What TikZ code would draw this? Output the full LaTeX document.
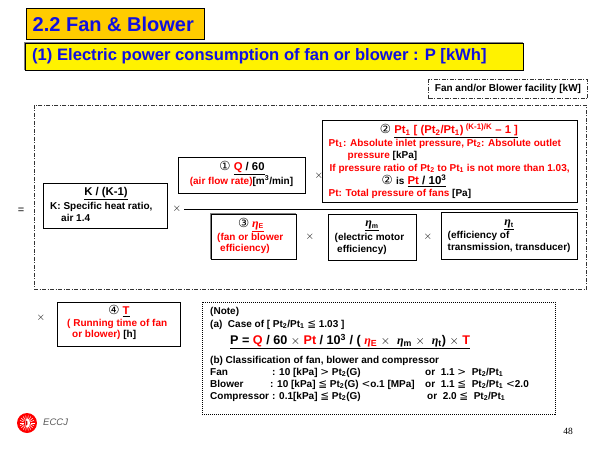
\documentclass[tikz,border=0pt]{standalone}
\usepackage{fontspec}
\setmainfont{Liberation Sans}
\newfontfamily\symfont{DejaVu Sans}
\newfontfamily\etafont{Liberation Serif}
\usetikzlibrary{positioning}
\definecolor{titlegold}{HTML}{FFCC00}
\definecolor{titleblue}{HTML}{1010E0}
\definecolor{edgegray}{HTML}{808080}
\newcommand{\ssym}[1]{{\symfont\fontseries{m}\fontsize{10.5}{12}\selectfont #1}}
\newcommand{\cnum}[1]{{\symfont\fontseries{m}\fontsize{12.5}{13}\selectfont #1}}
\newcommand{\etasym}[1]{{\etafont\itshape\fontsize{12}{12}\selectfont \symbol{"03B7}}\textsubscript{#1}}
\newcommand{\rd}[1]{\textcolor{red}{#1}}
\newcommand{\subs}[1]{\textsubscript{#1}}

\begin{document}
\begin{tikzpicture}[x=1pt,y=-1pt,
			base text/.style={inner sep=0pt,font=\bfseries\fontsize{10}{12}\selectfont},
			line text/.style={base text,anchor=west,text height=7.5pt,text depth=2.5pt},
			mid text/.style={base text,anchor=center},
			head text/.style={inner sep=0pt,anchor=center,font=\bfseries\fontsize{11.3}{13}\selectfont},
			red text/.style={line text,text=red},
			formula box/.style={draw=black,line width=0.9pt,fill=white,inner sep=0pt},
			dash box/.style={draw=black!80,line width=0.7pt,dash pattern=on 4pt off 1.5pt on 1pt off 1.5pt},
			gray edge/.style={draw=edgegray,line width=1.2pt},
			times/.style={inner sep=0pt,font=\fontsize{11}{11}\selectfont}
			]
			\useasboundingbox (0,0) rectangle (600,450);

			% title bars
			\node[draw=black,line width=0.9pt,fill=titlegold,minimum width=178pt,minimum height=31pt,inner sep=0pt] (title) at (115,23.5) {};
			\node[base text,anchor=west,text=titleblue,font=\bfseries\fontsize{20}{22}\selectfont] (titletext) at (32.5,24.5) {2.2 Fan \& Blower};
			\node[draw=black,line width=0.9pt,fill=yellow,minimum width=498pt,minimum height=27pt,inner sep=0pt] (sub) at (274,56.5) {};
			\draw[gray edge] (sub.south west) -- (sub.north west) -- (sub.north east);
			\node[base text,anchor=west,text=titleblue,font=\bfseries\fontsize{16.6}{19}\selectfont] (subtext) at (32,56.5) {(1) Electric power consumption of fan or blower : P [kWh]};

			% dashed frames
			\node[dash box,minimum width=159pt,minimum height=19pt,inner sep=0pt] (facility) at (508,89) {};
			\node[mid text] (facilitytext) at (508,89) {Fan and/or Blower facility [kW]};
			\node[dash box,minimum width=552pt,minimum height=184.5pt,inner sep=0pt] (frame) at (310,197.5) {};

			\node[times] (eq) at (21,211) {=};
			\node[times] (x1) at (177,209) {$\times$};
			\node[times] (x2) at (319,176) {$\times$};
			\node[times] (x3) at (310,237) {$\times$};
			\node[times] (x4) at (428,237) {$\times$};
			\node[times] (x5) at (41,318) {$\times$};

			% fraction line
			\coordinate (fracl) at (184,209.5);
			\coordinate (fracr) at (578,209.5);
			\draw[line width=0.9pt] (fracl) -- (fracr);

			% K box
			\node[formula box,minimum width=123.5pt,minimum height=45pt] (kbox) at (105.2,205.5) {};
			\node[head text] (k1) at (106,193.5) {\underline{K / (K-1)}};
			\node[line text] (k2) at (50,207) {K: Specific heat ratio,};
			\node[line text] (k3) at (61,219) {air 1.4};

			% Q box
			\node[formula box,minimum width=127pt,minimum height=35.5pt] (qbox) at (242,175.2) {};
			\node[head text] (q1) at (242,168) {\cnum{①} \underline{\rd{Q} / 60}};
			\node[mid text] (q2) at (241.5,181) {\rd{(air flow rate)}[m\textsuperscript{3}/min]};

			% Pt box
			\node[formula box,minimum width=254.5pt,minimum height=81.5pt] (ptbox) at (449.7,161.5) {};
			\node[head text] (p1) at (449,131) {\cnum{②} \underline{\rd{Pt\subs{1} [ (Pt\subs{2}/Pt\subs{1})\textsuperscript{ (K-1)/K} -- 1 ]}}};
			\node[red text] (p2) at (328.5,143.5) {Pt\subs{1}: Absolute inlet pressure, Pt\subs{2}: Absolute outlet};
			\node[red text] (p3) at (347.5,156) {pressure \textcolor{black}{[kPa]}};
			\node[red text] (p4) at (329.5,168.5) {If pressure ratio of Pt\subs{2} to Pt\subs{1} is not more than 1.03,};
			\node[mid text,font=\bfseries\fontsize{11.5}{13}\selectfont] (p5) at (414,181) {\cnum{②} {\fontsize{10}{12}\selectfont is} \underline{\rd{Pt} / 10\textsuperscript{3}}};
			\node[red text] (p6) at (328.5,194) {Pt: Total pressure of fans \textcolor{black}{[Pa]}};

			% efficiency boxes
			\node[formula box,minimum width=85pt,minimum height=45pt] (ebox) at (253.5,236.5) {};
			\draw[gray edge] (ebox.south west) -- (ebox.north west) -- (ebox.north east);
			\node[mid text] (e1) at (251,225) {\cnum{③} \rd{\underline{\etasym{E}}}};
			\node[red text] (e2) at (217,237.5) {(fan or blower};
			\node[red text] (e3) at (220,249) {efficiency)};

			\node[formula box,minimum width=88pt,minimum height=46.5pt] (mbox) at (372,237.5) {};
			\node[mid text] (m1) at (372,226) {\underline{\etasym{m}}};
			\node[line text] (m2) at (334.5,238) {(electric motor};
			\node[line text] (m3) at (337,250) {efficiency)};

			\node[formula box,minimum width=136pt,minimum height=47pt] (tbox) at (509,235.5) {};
			\node[mid text] (t1) at (509,225) {\underline{\etasym{t}}};
			\node[line text] (t2) at (447.5,235.5) {(efficiency of};
			\node[line text] (t3) at (447.5,247.5) {transmission, transducer)};

			% running time box
			\node[formula box,minimum width=123pt,minimum height=44pt] (rbox) at (119,324) {};
			\node[head text] (r1) at (119,311) {\cnum{④} \underline{\rd{T}}};
			\node[red text] (r2) at (67,323.5) {( Running time of fan};
			\node[red text] (r3) at (72,335) {or blower) \textcolor{black}{[h]}};

			% note
			\node[draw=black,line width=1pt,dash pattern=on 1pt off 1pt,minimum width=353pt,minimum height=112pt,inner sep=0pt] (note) at (378.5,358) {};
			\node[line text] (n1) at (210,312) {(Note)};
			\node[line text] (n2) at (210,324.5) {(a)\ \ Case of [ Pt\subs{2}/Pt\subs{1} \ssym{≦} 1.03 ]};
			\node[base text,anchor=west,font=\bfseries\fontsize{12.6}{14}\selectfont] (n3) at (230,341.5) {\underline{P = \rd{Q} / 60 $\times$ \rd{Pt} / 10\textsuperscript{3} / ( \rd{\etasym{E}} $\times$\ \ \etasym{m} $\times$\ \ \etasym{t}) $\times$ \rd{T}}};
			\node[line text] (n4) at (210,360.5) {(b) Classification of fan, blower and compressor};

			\foreach \name/\cond/\cx/\ratio/\rx/\y in {
				Fan/{: 10 [kPa] \ssym{>} Pt\subs{2}(G)}/272/{or\ \ 1.1 \ssym{>}\ \ Pt\subs{2}/Pt\subs{1}}/425/372.5,
				Blower/{: 10 [kPa] \ssym{≦} Pt\subs{2}(G) \ssym{<}o.1 [MPa]}/270/{or\ \ 1.1 \ssym{≦}\ \ Pt\subs{2}/Pt\subs{1} \ssym{<}2.0}/425/384.5,
				Compressor/{: 0.1[kPa] \ssym{≦} Pt\subs{2}(G)}/272/{or\ \ 2.0 \ssym{≦}\ \ Pt\subs{2}/Pt\subs{1}}/427/396.5} {
				\node[line text] (\name-n) at (210,\y) {\name};
				\node[line text] (\name-c) at (\cx,\y) {\cond};
				\node[line text] (\name-r) at (\rx,\y) {\ratio};
			}

			% logo and page number
			\fill[red] (27,423) circle (10);
			\foreach \a in {0,20,...,340} {
				\draw[white,line width=0.5pt] (27,423) ++(\a:3.5) -- ++(\a:4);
			}
			\fill[white] (27.5,423) ellipse (2.5 and 4.5);
			\fill[red!80!black] (26.5,423) ellipse (1 and 2.5);
			\node[base text,anchor=west,font=\itshape\fontsize{9.5}{11}\selectfont,text=black!65] (eccj) at (43,422.5) {ECCJ};
			\node[mid text,font=\etafont\fontsize{9.5}{11}\selectfont] (page) at (568,431) {48};
		\end{tikzpicture}
\end{document}
